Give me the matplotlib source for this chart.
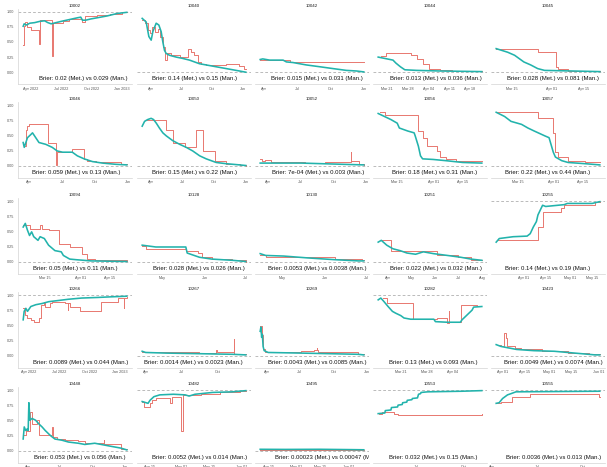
import numpy as np
import pandas as pd
import matplotlib
matplotlib.use('Agg')
import matplotlib.pyplot as plt
import matplotlib.dates as mdates
import matplotlib.transforms as mtrans

plt.rcParams['font.family'] = ['Liberation Sans', 'DejaVu Sans']

# questions in facet order
ids = [10002, 10040, 10042, 10044, 10045,
       10046, 10050, 10052, 10056, 10057,
       10094, 10128, 10130, 10251, 10255,
       10266, 10267, 10269, 10282, 10423,
       10448, 10482, 10495, 10553, 10555]
resolution = [1, 0, 0, 0, 0,
              0, 0, 0, 0, 0,
              0, 0, 0, 0, 1,
              1, 0, 0, 1, 0,
              0, 1, 0, 1, 1]
brier = ["Brier: 0.02 (Met.) vs 0.029 (Man.)", "Brier: 0.14 (Met.) vs 0.15 (Man.)",
         "Brier: 0.015 (Met.) vs 0.031 (Man.)", "Brier: 0.013 (Met.) vs 0.036 (Man.)",
         "Brier: 0.028 (Met.) vs 0.081 (Man.)",
         "Brier: 0.059 (Met.) vs 0.13 (Man.)", "Brier: 0.15 (Met.) vs 0.22 (Man.)",
         "Brier: 7e-04 (Met.) vs 0.003 (Man.)", "Brier: 0.18 (Met.) vs 0.31 (Man.)",
         "Brier: 0.22 (Met.) vs 0.44 (Man.)",
         "Brier: 0.05 (Met.) vs 0.11 (Man.)", "Brier: 0.028 (Met.) vs 0.026 (Man.)",
         "Brier: 0.0053 (Met.) vs 0.0038 (Man.)", "Brier: 0.022 (Met.) vs 0.032 (Man.)",
         "Brier: 0.14 (Met.) vs 0.19 (Man.)",
         "Brier: 0.0089 (Met.) vs 0.044 (Man.)", "Brier: 0.0014 (Met.) vs 0.0023 (Man.)",
         "Brier: 0.0043 (Met.) vs 0.0085 (Man.)", "Brier: 0.13 (Met.) vs 0.093 (Man.)",
         "Brier: 0.0049 (Met.) vs 0.0074 (Man.)",
         "Brier: 0.053 (Met.) vs 0.056 (Man.)", "Brier: 0.0052 (Met.) vs 0.014 (Man.)",
         "Brier: 0.00023 (Met.) vs 0.00047 (Man.)", "Brier: 0.032 (Met.) vs 0.15 (Man.)",
         "Brier: 0.0036 (Met.) vs 0.013 (Man.)"]

# x tick sets
tick_sets = {
    'qy': (['2022-04-01', '2022-07-01', '2022-10-01', '2023-01-01'],
           ['Apr 2022', 'Jul 2022', 'Oct 2022', 'Jan 2023']),
    'q': (['2022-04-01', '2022-07-01', '2022-10-01', '2023-01-01'],
          ['Apr', 'Jul', 'Oct', 'Jan']),
    'wk': (['2022-03-21', '2022-03-28', '2022-04-04', '2022-04-11', '2022-04-18'],
           ['Mar 21', 'Mar 28', 'Apr 04', 'Apr 11', 'Apr 18']),
    'mar': (['2022-03-15', '2022-04-01', '2022-04-15'],
            ['Mar 15', 'Apr 01', 'Apr 15']),
    'mj': (['2022-05-01', '2022-06-01', '2022-07-01'], ['May', 'Jun', 'Jul']),
    'am': (['2022-04-01', '2022-05-01', '2022-06-01', '2022-07-01', '2022-08-01'],
           ['Apr', 'May', 'Jun', 'Jul', 'Aug']),
    'apr': (['2022-04-01', '2022-04-15', '2022-05-01', '2022-05-15', '2022-06-01'],
            ['Apr 01', 'Apr 15', 'May 01', 'May 15', 'Jun 01']),
    'wk3': (['2022-03-21', '2022-03-28', '2022-04-04'], ['Mar 21', 'Mar 28', 'Apr 04']),
    'a15': (['2022-04-15', '2022-05-01', '2022-05-15', '2022-06-01'],
            ['Apr 15', 'May 01', 'May 15', 'Jun 01']),
    'ajo': (['2022-04-01', '2022-07-01', '2022-10-01'], ['Apr', 'Jul', 'Oct']),
}
panel_ticks = ['qy', 'q', 'q', 'wk', 'mar',
               'q', 'q', 'q', 'mar', 'mar',
               'mar', 'mj', 'mj', 'am', 'apr',
               'qy', 'q', 'q', 'wk3', 'apr',
               'q', 'a15', 'a15', 'ajo', 'ajo']

# Metaculus (met) and Manifold (man) probabilities
met_10002 = [("2022-03-08", 0.76), ("2022-03-11", 0.80), ("2022-03-18", 0.78), ("2022-03-28", 0.81),
             ("2022-04-12", 0.82), ("2022-04-27", 0.84), ("2022-05-12", 0.85), ("2022-05-22", 0.82),
             ("2022-06-01", 0.80), ("2022-06-16", 0.82), ("2022-07-01", 0.84), ("2022-07-26", 0.87),
             ("2022-08-20", 0.90), ("2022-08-30", 0.91), ("2022-09-04", 0.86), ("2022-09-14", 0.86),
             ("2022-09-29", 0.88), ("2022-10-19", 0.90), ("2022-11-18", 0.93), ("2022-12-18", 0.97),
             ("2023-01-17", 0.99)]
man_10002 = [("2022-03-08", 0.45), ("2022-03-09", 0.76), ("2022-03-15", 0.83), ("2022-03-21", 0.74),
             ("2022-04-02", 0.70), ("2022-04-26", 0.47), ("2022-04-28", 0.86), ("2022-06-04", 0.27),
             ("2022-06-06", 0.81), ("2022-07-06", 0.84), ("2022-07-26", 0.88), ("2022-09-04", 0.83),
             ("2022-09-11", 0.93), ("2022-10-19", 0.95), ("2022-11-28", 0.97), ("2023-01-02", 0.99),
             ("2023-01-17", 0.99)]

met_10040 = [("2022-03-05", 0.89), ("2022-03-17", 0.83), ("2022-03-25", 0.59), ("2022-04-01", 0.53),
             ("2022-04-06", 0.67), ("2022-04-16", 0.81), ("2022-04-24", 0.78), ("2022-05-01", 0.67),
             ("2022-05-06", 0.50), ("2022-05-11", 0.36), ("2022-05-16", 0.31), ("2022-05-26", 0.28),
             ("2022-06-15", 0.25), ("2022-07-03", 0.23), ("2022-07-25", 0.20), ("2022-08-24", 0.14),
             ("2022-10-03", 0.10), ("2022-11-12", 0.06), ("2022-12-22", 0.02), ("2023-01-10", 0.0)]
man_10040 = [("2022-03-05", 0.86), ("2022-03-12", 0.81), ("2022-03-22", 0.70), ("2022-03-29", 0.64),
             ("2022-04-04", 0.75), ("2022-04-11", 0.67), ("2022-04-21", 0.72), ("2022-04-28", 0.59),
             ("2022-05-06", 0.42), ("2022-05-13", 0.20), ("2022-05-18", 0.31), ("2022-05-31", 0.28),
             ("2022-06-25", 0.25), ("2022-07-20", 0.39), ("2022-07-30", 0.34), ("2022-08-09", 0.28),
             ("2022-08-19", 0.17), ("2022-08-29", 0.14), ("2022-09-13", 0.12), ("2022-11-12", 0.13),
             ("2022-12-22", 0.10), ("2023-01-05", 0.06), ("2023-01-10", 0.06)]

met_10042 = [("2022-03-22", 0.21), ("2022-03-29", 0.22), ("2022-04-17", 0.20), ("2022-05-24", 0.20),
             ("2022-06-02", 0.17), ("2022-06-20", 0.16), ("2022-07-27", 0.12), ("2022-09-02", 0.09),
             ("2022-10-08", 0.06), ("2022-11-14", 0.03), ("2022-12-12", 0.02), ("2023-01-01", 0.005)]
man_10042 = [("2022-03-22", 0.21), ("2022-05-24", 0.21), ("2022-06-02", 0.20), ("2022-06-11", 0.17),
             ("2023-01-01", 0.17)]

met_10044 = [("2022-03-18", 0.25), ("2022-03-21", 0.22), ("2022-03-23", 0.20), ("2022-03-24", 0.15),
             ("2022-03-25 12:00", 0.09), ("2022-03-27", 0.04), ("2022-03-31", 0.03), ("2022-04-08", 0.02),
             ("2022-04-22", 0.01)]
man_10044 = [("2022-03-19", 0.26), ("2022-03-20 16:00", 0.32), ("2022-03-29", 0.28), ("2022-03-31", 0.22),
             ("2022-04-02", 0.14), ("2022-04-04", 0.06), ("2022-04-08", 0.03), ("2022-04-12", 0.02),
             ("2022-04-22", 0.02)]

met_10045 = [("2022-03-08", 0.39), ("2022-03-13", 0.33), ("2022-03-16", 0.28), ("2022-03-20", 0.17),
             ("2022-03-23", 0.12), ("2022-03-26", 0.06), ("2022-03-29", 0.03), ("2022-04-22", 0.01)]
man_10045 = [("2022-03-08", 0.39), ("2022-03-26", 0.33), ("2022-04-03", 0.09), ("2022-04-04", 0.05),
             ("2022-04-08", 0.02), ("2022-04-22", 0.02)]

met_10046 = [("2022-03-15", 0.38), ("2022-03-18", 0.30), ("2022-03-27", 0.46), ("2022-04-05", 0.51),
             ("2022-04-10", 0.54), ("2022-04-19", 0.46), ("2022-04-28", 0.38), ("2022-05-17", 0.35),
             ("2022-06-04", 0.30), ("2022-06-18", 0.24), ("2022-07-03", 0.22), ("2022-07-30", 0.22),
             ("2022-08-13", 0.16), ("2022-09-01", 0.11), ("2022-09-24", 0.065), ("2022-10-22", 0.04),
             ("2022-11-28", 0.02), ("2022-12-29", 0.01)]
man_10046 = [("2022-03-18", 0.32), ("2022-03-22", 0.59), ("2022-03-27", 0.65), ("2022-04-01", 0.68),
             ("2022-04-05", 0.69), ("2022-05-24", 0.38), ("2022-06-15", 0.01), ("2022-06-16", 0.22),
             ("2022-07-28", 0.27), ("2022-09-01", 0.11), ("2022-09-10", 0.08), ("2022-10-03", 0.05),
             ("2022-12-14", 0.03), ("2022-12-29", 0.02)]

met_10050 = [("2022-03-06", 0.65), ("2022-03-13", 0.73), ("2022-03-22", 0.76), ("2022-04-01", 0.78),
             ("2022-04-08", 0.76), ("2022-04-16", 0.70), ("2022-04-25", 0.62), ("2022-05-05", 0.54),
             ("2022-05-15", 0.49), ("2022-06-03", 0.41), ("2022-06-23", 0.35), ("2022-07-12", 0.30),
             ("2022-07-31", 0.24), ("2022-08-20", 0.16), ("2022-09-08", 0.11), ("2022-10-07", 0.05),
             ("2022-11-05", 0.03), ("2022-12-14", 0.01), ("2023-01-01", 0.0)]
man_10050 = [("2022-03-17", 0.76), ("2022-05-15", 0.59), ("2022-06-03", 0.38), ("2022-07-08", 0.30),
             ("2022-08-10", 0.59), ("2022-08-30", 0.24), ("2022-10-03", 0.08), ("2022-11-05", 0.03),
             ("2022-12-14", 0.01), ("2023-01-01", 0.0)]

met_10052 = [("2022-03-09", 0.04), ("2022-07-02", 0.04), ("2022-10-26", 0.02), ("2022-12-25", 0.01)]
man_10052 = [("2022-03-09", 0.11), ("2022-03-14", 0.08), ("2022-03-23", 0.09), ("2022-04-07", 0.05),
             ("2022-07-12", 0.04), ("2022-09-08", 0.05), ("2022-11-18", 0.22), ("2022-11-20", 0.08),
             ("2022-12-11", 0.02), ("2022-12-25", 0.01)]

met_10056 = [("2022-03-06", 0.86), ("2022-03-09", 0.81), ("2022-03-12", 0.76), ("2022-03-15", 0.70),
             ("2022-03-16", 0.62), ("2022-03-20", 0.57), ("2022-03-23", 0.54), ("2022-03-23 12:00", 0.49),
             ("2022-03-25", 0.32), ("2022-03-26", 0.16), ("2022-03-27", 0.11), ("2022-04-01", 0.10),
             ("2022-04-07", 0.08), ("2022-04-15", 0.05), ("2022-04-24", 0.04)]
man_10056 = [("2022-03-07", 0.88), ("2022-03-09", 0.84), ("2022-03-25", 0.57), ("2022-03-27", 0.46),
             ("2022-03-29", 0.32), ("2022-04-03", 0.24), ("2022-04-04", 0.14), ("2022-04-07", 0.11),
             ("2022-04-12", 0.08), ("2022-04-24", 0.08)]

met_10057 = [("2022-03-05", 0.88), ("2022-03-09", 0.81), ("2022-03-12", 0.73), ("2022-03-17", 0.68),
             ("2022-03-20", 0.62), ("2022-03-23", 0.57), ("2022-03-28", 0.49), ("2022-03-30", 0.46),
             ("2022-04-01", 0.22), ("2022-04-02", 0.14), ("2022-04-05", 0.08), ("2022-04-08", 0.05),
             ("2022-04-16", 0.03), ("2022-04-23", 0.01)]
man_10057 = [("2022-03-05", 0.88), ("2022-03-25", 0.78), ("2022-04-01", 0.54), ("2022-04-02", 0.22),
             ("2022-04-03", 0.14), ("2022-04-08", 0.08), ("2022-04-16", 0.05), ("2022-04-23", 0.05)]

met_10094 = [("2022-03-05", 0.57), ("2022-03-06", 0.63), ("2022-03-07", 0.52), ("2022-03-08", 0.43),
             ("2022-03-09", 0.49), ("2022-03-10", 0.41), ("2022-03-12", 0.35), ("2022-03-13", 0.41),
             ("2022-03-15", 0.38), ("2022-03-17", 0.27), ("2022-03-20", 0.18), ("2022-03-23", 0.16),
             ("2022-03-24", 0.10), ("2022-03-27", 0.04), ("2022-03-30", 0.03), ("2022-04-06", 0.01),
             ("2022-04-23", 0.0)]
man_10094 = [("2022-03-05", 0.60), ("2022-03-08", 0.54), ("2022-03-13", 0.61), ("2022-03-14", 0.54),
             ("2022-03-17", 0.52), ("2022-03-22", 0.29), ("2022-03-27", 0.24), ("2022-04-02", 0.13),
             ("2022-04-04", 0.04), ("2022-04-08", 0.02), ("2022-04-23", 0.01)]

met_10128 = [("2022-04-16", 0.27), ("2022-04-26", 0.24), ("2022-05-18", 0.24), ("2022-05-19", 0.14),
             ("2022-05-28", 0.07), ("2022-06-06", 0.04), ("2022-06-21", 0.02), ("2022-07-01", 0.0)]
man_10128 = [("2022-04-16", 0.25), ("2022-04-19", 0.21), ("2022-05-18", 0.18), ("2022-05-27", 0.14),
             ("2022-05-30", 0.07), ("2022-06-06", 0.04), ("2022-06-21", 0.02), ("2022-07-01", 0.0)]

met_10130 = [("2022-04-15", 0.13), ("2022-04-19", 0.10), ("2022-05-02", 0.09), ("2022-05-19", 0.06),
             ("2022-06-08", 0.03), ("2022-06-25", 0.01), ("2022-06-29", 0.01)]
man_10130 = [("2022-04-15", 0.11), ("2022-04-19", 0.08), ("2022-05-02", 0.07), ("2022-06-08", 0.04),
             ("2022-06-28", 0.02), ("2022-06-29", 0.02)]

met_10251 = [("2022-03-20", 0.32), ("2022-03-24", 0.35), ("2022-03-31", 0.27), ("2022-04-08", 0.21),
             ("2022-04-17", 0.18), ("2022-04-26", 0.14), ("2022-05-07", 0.12), ("2022-05-17", 0.16),
             ("2022-05-30", 0.13), ("2022-06-17", 0.10), ("2022-07-04", 0.07), ("2022-07-17", 0.04),
             ("2022-07-31", 0.02)]
man_10251 = [("2022-03-24", 0.35), ("2022-04-05", 0.18), ("2022-05-04", 0.17), ("2022-06-04", 0.10),
             ("2022-06-30", 0.07), ("2022-07-17", 0.03), ("2022-07-31", 0.02)]

met_10255 = [("2022-03-14", 0.32), ("2022-03-16", 0.38), ("2022-03-25", 0.41), ("2022-04-03", 0.42),
             ("2022-04-05", 0.46), ("2022-04-07", 0.57), ("2022-04-09", 0.66), ("2022-04-10", 0.77),
             ("2022-04-13", 0.93), ("2022-04-15", 0.91), ("2022-04-27", 0.94), ("2022-04-29", 0.96),
             ("2022-05-15", 0.96), ("2022-05-20", 0.99)]
man_10255 = [("2022-03-15", 0.35), ("2022-04-10", 0.57), ("2022-04-13", 0.82), ("2022-04-25", 0.88),
             ("2022-04-27", 0.93), ("2022-05-17", 0.98), ("2022-05-20", 0.98)]

met_10266 = [("2022-03-16", 0.59), ("2022-03-19", 0.73), ("2022-03-24", 0.78), ("2022-03-29", 0.73),
             ("2022-04-08", 0.81), ("2022-04-23", 0.84), ("2022-05-12", 0.86), ("2022-06-01", 0.89),
             ("2022-07-01", 0.91), ("2022-07-30", 0.93), ("2022-09-08", 0.95), ("2022-10-27", 0.96),
             ("2022-12-05", 0.97), ("2023-01-22", 0.98)]
man_10266 = [("2022-03-16", 0.78), ("2022-03-22", 0.67), ("2022-03-29", 0.62), ("2022-04-08", 0.59),
             ("2022-04-18", 0.56), ("2022-05-03", 0.62), ("2022-05-08", 0.84), ("2022-05-17", 0.89),
             ("2022-05-22", 0.81), ("2022-06-06", 0.86), ("2022-06-11", 0.89), ("2022-07-21", 0.86),
             ("2022-07-28", 0.76), ("2022-07-29", 0.86), ("2022-08-04", 0.81), ("2022-09-03", 0.73),
             ("2022-11-05", 0.89), ("2022-12-25", 0.95), ("2023-01-13", 0.78), ("2023-01-14", 0.95),
             ("2023-01-22", 0.97)]

met_10267 = [("2022-03-23", 0.07), ("2022-04-01", 0.05), ("2022-05-22", 0.04), ("2022-08-16", 0.03),
             ("2022-11-09", 0.02), ("2022-12-13", 0.01)]
man_10267 = [("2022-03-23", 0.05), ("2022-08-16", 0.04), ("2022-09-29", 0.09), ("2022-10-01", 0.05),
             ("2022-11-13", 0.27), ("2022-11-14", 0.03), ("2022-12-13", 0.02)]

met_10269 = [("2022-03-14", 0.40), ("2022-03-16", 0.47), ("2022-03-18", 0.30), ("2022-03-20", 0.35),
             ("2022-03-22", 0.15), ("2022-03-25", 0.08), ("2022-04-05", 0.05), ("2022-07-04", 0.04),
             ("2022-12-08", 0.02), ("2022-12-24", 0.01)]
man_10269 = [("2022-03-14", 0.48), ("2022-03-18", 0.34), ("2022-03-22", 0.10), ("2022-03-26", 0.06),
             ("2022-07-04", 0.07), ("2022-08-08", 0.09), ("2022-08-16", 0.13), ("2022-08-17", 0.09),
             ("2022-08-21", 0.05), ("2022-12-08", 0.02), ("2022-12-24", 0.02)]

met_10282 = [("2022-03-15 00:00", 0.92), ("2022-03-15 17:00", 0.95), ("2022-03-16 14:00", 0.89),
             ("2022-03-17 16:00", 0.81), ("2022-03-18 20:00", 0.73), ("2022-03-19 17:00", 0.70),
             ("2022-03-21 02:00", 0.66), ("2022-03-21 23:00", 0.62), ("2022-03-23 18:00", 0.60),
             ("2022-03-30 00:00", 0.60), ("2022-03-30 10:00", 0.56), ("2022-04-02 14:00", 0.55),
             ("2022-04-06 03:00", 0.55), ("2022-04-06 14:00", 0.59), ("2022-04-09 07:00", 0.75),
             ("2022-04-09 17:00", 0.80), ("2022-04-11 22:00", 0.81)]
man_10282 = [("2022-03-16 04:00", 0.95), ("2022-03-17 07:00", 0.86), ("2022-03-24 12:00", 0.60),
             ("2022-03-30 22:00", 0.62), ("2022-04-02 14:00", 0.54), ("2022-04-03 00:00", 0.73),
             ("2022-04-03 05:00", 0.56), ("2022-04-06 07:00", 0.84), ("2022-04-10 14:00", 0.82)]

met_10423 = [("2022-03-28", 0.18), ("2022-03-31", 0.15), ("2022-04-04", 0.13), ("2022-04-10", 0.10),
             ("2022-04-21", 0.08), ("2022-05-04", 0.07), ("2022-05-17", 0.04), ("2022-05-30", 0.01),
             ("2022-06-02", 0.01)]
man_10423 = [("2022-03-29", 0.18), ("2022-03-31", 0.15), ("2022-04-02", 0.37), ("2022-04-03", 0.29),
             ("2022-04-04", 0.15), ("2022-04-09", 0.13), ("2022-04-13", 0.10), ("2022-04-26", 0.07),
             ("2022-05-13", 0.04), ("2022-05-26", 0.02), ("2022-06-02", 0.02)]

met_10448 = [("2022-03-20", 0.19), ("2022-03-23", 0.39), ("2022-03-27", 0.33), ("2022-04-01", 0.36),
             ("2022-04-03", 0.33), ("2022-04-05", 0.79), ("2022-04-08", 0.50), ("2022-04-14", 0.53),
             ("2022-04-24", 0.50), ("2022-05-03", 0.44), ("2022-05-12", 0.39), ("2022-05-21", 0.33),
             ("2022-06-04", 0.25), ("2022-06-17", 0.19), ("2022-07-07", 0.17), ("2022-07-25", 0.14),
             ("2022-08-22", 0.12), ("2022-09-09", 0.10), ("2022-10-07", 0.12), ("2022-10-25", 0.10),
             ("2022-11-21", 0.07), ("2022-12-19", 0.04), ("2023-01-05", 0.01)]
man_10448 = [("2022-03-23", 0.25), ("2022-03-27", 0.36), ("2022-04-01", 0.33), ("2022-04-07", 0.64),
             ("2022-04-14", 0.44), ("2022-04-28", 0.50), ("2022-05-03", 0.25), ("2022-06-08", 0.39),
             ("2022-06-13", 0.22), ("2022-06-22", 0.19), ("2022-07-15", 0.18), ("2022-08-22", 0.15),
             ("2022-09-09", 0.12), ("2022-11-01", 0.17), ("2022-11-03", 0.11), ("2022-12-19", 0.03),
             ("2023-01-05", 0.02)]

met_10482 = [("2022-04-11", 0.81), ("2022-04-13", 0.79), ("2022-04-14", 0.78), ("2022-04-15", 0.83),
             ("2022-04-17", 0.89), ("2022-04-20", 0.92), ("2022-04-27", 0.93), ("2022-05-03", 0.92),
             ("2022-05-05", 0.90), ("2022-05-08", 0.93), ("2022-05-17", 0.96), ("2022-05-27", 0.97),
             ("2022-06-03", 0.99)]
man_10482 = [("2022-04-11", 0.81), ("2022-04-12", 0.72), ("2022-04-15", 0.78), ("2022-04-16", 0.83),
             ("2022-04-18", 0.86), ("2022-04-25", 0.78), ("2022-04-26", 0.89), ("2022-05-01", 0.32),
             ("2022-05-01 18:00", 0.92), ("2022-05-11", 0.93), ("2022-05-21", 0.96), ("2022-05-31", 0.98),
             ("2022-06-03", 0.98)]

met_10495 = [("2022-04-10", 0.02), ("2022-04-25", 0.018), ("2022-05-15", 0.02), ("2022-06-01", 0.015),
             ("2022-06-10", 0.012)]
man_10495 = [("2022-04-10", 0.01), ("2022-06-10", 0.008)]

met_10553 = [("2022-04-17", 0.61), ("2022-04-30", 0.62), ("2022-05-01", 0.66), ("2022-05-12", 0.67),
             ("2022-05-13", 0.71), ("2022-05-25", 0.72), ("2022-05-26", 0.75), ("2022-06-03", 0.76),
             ("2022-06-04", 0.79), ("2022-06-12", 0.80), ("2022-06-13", 0.83), ("2022-06-22", 0.84),
             ("2022-06-23", 0.86), ("2022-07-03", 0.87), ("2022-07-05", 0.93), ("2022-07-09", 0.94),
             ("2022-07-10", 0.96), ("2022-07-23", 0.97), ("2022-09-28", 0.98), ("2022-11-06", 0.99)]
man_10553 = [("2022-04-19", 0.61), ("2022-04-25", 0.63), ("2022-05-18", 0.61), ("2022-05-25", 0.59),
             ("2022-11-06", 0.60)]

met_10555 = [("2022-04-09", 0.78), ("2022-04-15", 0.79), ("2022-04-22", 0.86), ("2022-05-02", 0.92),
             ("2022-05-09", 0.94), ("2022-05-19", 0.97), ("2022-11-05", 0.98)]
man_10555 = [("2022-04-11", 0.79), ("2022-04-18", 0.81), ("2022-05-12", 0.88), ("2022-06-16", 0.93),
             ("2022-11-03", 0.89), ("2022-11-05", 0.89)]

met = {10002: met_10002, 10040: met_10040, 10042: met_10042, 10044: met_10044, 10045: met_10045,
       10046: met_10046, 10050: met_10050, 10052: met_10052, 10056: met_10056, 10057: met_10057,
       10094: met_10094, 10128: met_10128, 10130: met_10130, 10251: met_10251, 10255: met_10255,
       10266: met_10266, 10267: met_10267, 10269: met_10269, 10282: met_10282, 10423: met_10423,
       10448: met_10448, 10482: met_10482, 10495: met_10495, 10553: met_10553, 10555: met_10555}
man = {10002: man_10002, 10040: man_10040, 10042: man_10042, 10044: man_10044, 10045: man_10045,
       10046: man_10046, 10050: man_10050, 10052: man_10052, 10056: man_10056, 10057: man_10057,
       10094: man_10094, 10128: man_10128, 10130: man_10130, 10251: man_10251, 10255: man_10255,
       10266: man_10266, 10267: man_10267, 10269: man_10269, 10282: man_10282, 10423: man_10423,
       10448: man_10448, 10482: man_10482, 10495: man_10495, 10553: man_10553, 10555: man_10555}

# label x position within each panel (axes fraction)
txt_x = [0.57, 0.50, 0.54, 0.55, 0.54,
         0.51, 0.50, 0.55, 0.54, 0.50,
         0.505, 0.54, 0.55, 0.55, 0.50,
         0.55, 0.49, 0.55, 0.53, 0.55,
         0.54, 0.55, 0.64, 0.53, 0.55]

MAN_C = '#E8776F'
MET_C = '#22B3AC'


def to_num(pairs):
    t = pd.to_datetime([p[0] for p in pairs], format='mixed').to_pydatetime()
    return mdates.date2num(t), np.array([p[1] for p in pairs])


W, H = 607, 467
col_x = [18, 137, 255, 373, 491]
row_y = [8.7, 102, 198, 292, 387]
pw, ph = 114, 75.6

fig = plt.figure(figsize=(W / 100, H / 100), dpi=100)

for i, q in enumerate(ids):
    r, c = divmod(i, 5)
    ax = fig.add_axes([col_x[c] / W, 1 - (row_y[r] + ph) / H, pw / W, ph / H])

    tm, pm = to_num(man[q])
    te, pe = to_num(met[q])
    ax.axhline(resolution[i], color='#a0a0a0', lw=0.5, ls=(0, (4, 3)), zorder=1)
    ax.plot(tm, pm, drawstyle='steps-post', color=MAN_C, lw=0.7, zorder=2)
    ax.plot(te, pe, color=MET_C, lw=1.15, zorder=3)

    tdates, tlabels = tick_sets[panel_ticks[i]]
    tk = mdates.date2num(pd.to_datetime(tdates).to_pydatetime())
    ax.set_xticks(tk)
    ax.set_xticklabels(tlabels)
    t0 = min(tm.min(), te.min())
    t1 = max(tm.max(), te.max())
    span = t1 - t0
    ax.set_xlim(t0 - 0.05 * span, t1 + 0.05 * span)
    ax.set_ylim(-0.2, 1.05)

    trans = mtrans.blended_transform_factory(ax.transAxes, ax.transData)
    ax.text(txt_x[i], -0.11, brier[i], transform=trans, ha='center', va='center',
            fontsize=4.3, color='#111111', clip_on=True)

    ax.set_title(str(q), fontsize=3.2, pad=1.5, color='#1a1a1a')

    ax.set_yticks([0, 0.25, 0.5, 0.75, 1.0])
    ax.set_yticklabels(['0.00', '0.25', '0.50', '0.75', '1.00'])
    ax.tick_params(length=0, labelsize=2.7, labelcolor='#555555')
    ax.tick_params(axis='x', pad=2)
    ax.tick_params(axis='y', pad=3)
    for s in ['top', 'right']:
        ax.spines[s].set_visible(False)
    ax.spines['bottom'].set_color('#d3d3d3')
    ax.spines['bottom'].set_linewidth(0.5)
    if c == 0:
        ax.spines['left'].set_color('#d3d3d3')
        ax.spines['left'].set_linewidth(0.5)
    else:
        ax.spines['left'].set_visible(False)
        ax.tick_params(axis='y', labelleft=False)
    ax.patch.set_alpha(0)

fig.savefig('out.png', dpi=100)
